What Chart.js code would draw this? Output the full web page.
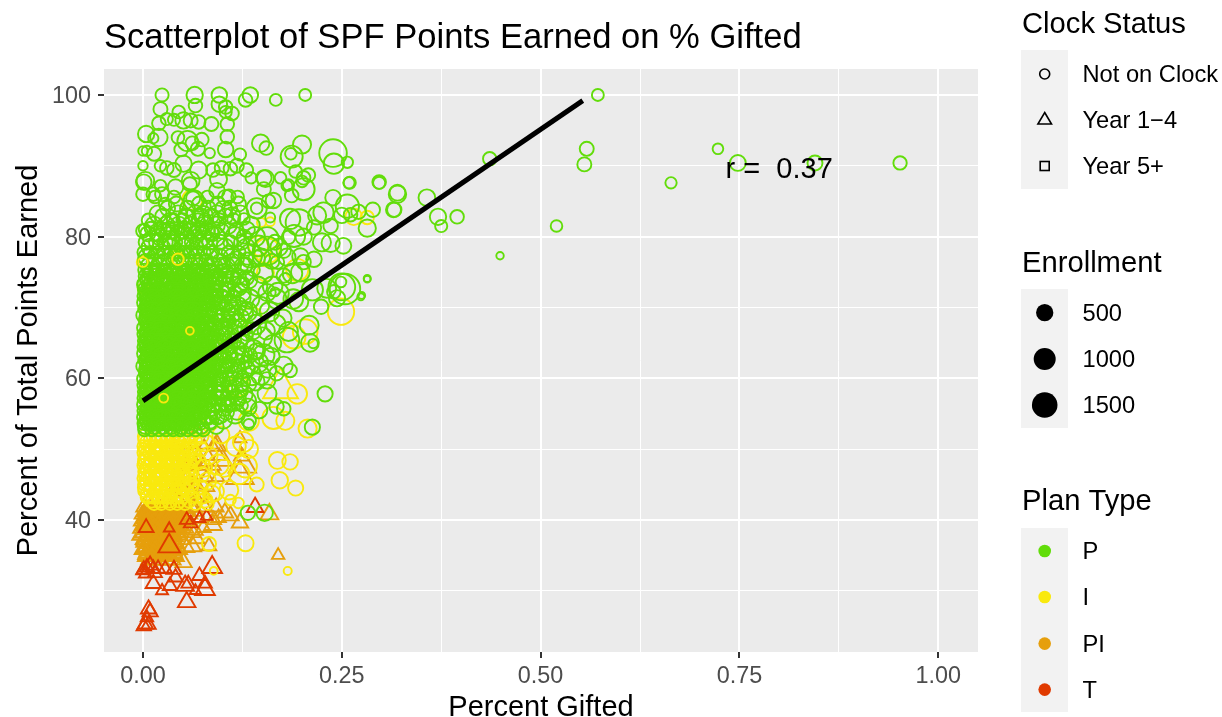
<!DOCTYPE html>
<html><head><meta charset="utf-8">
<style>html,body{margin:0;padding:0;background:#fff}canvas{display:block}</style>
<script src="https://cdn.jsdelivr.net/npm/chart.js@4/dist/chart.umd.js"></script>
</head><body><canvas id="c" width="1222" height="717"></canvas>
<script>
// Values. Triples: [percent gifted, percent of points, enrollment]
const planP_outer=[[57.2,100,110],[55.8,92.4,200],[55.5,90.2,200],[72.3,92.4,70],[74.8,90.4,300],[84.5,90.4,250],[95.2,90.4,170],[66.4,87.6,90],[43.6,91,170],[52,81.5,100],[44.9,77.3,8],[39.5,82.8,180],[37.5,81.5,120],[37.1,82.8,330],[35.7,85.5,350],[32,86,400],[31.6,83.8,220],[29.7,87.6,120],[28.2,81.2,390],[25.9,87.6,90],[25.7,90.5,90],[23.9,91.8,1400],[24,90.3,620],[20.4,100,110],[16.7,99.3,110],[28.2,74,3],[27.5,71.7,4],[25.4,72.6,1800],[28.9,83.8,220]];
const planP_top=[[2.4,100,160],[6.5,100,330],[9.6,100,280],[13.5,100,280],[12.9,99.3,180],[6.6,98.5,180],[9.6,98.7,280],[2.2,98,200],[10.4,98.3,180],[10.4,97.6,120],[11.2,97.4,180],[4.5,97.6,140],[3,96.6,120],[3.9,96.5,120],[5.1,96.4,330],[6,96.4,200],[7,96.2,180],[2,96,180],[8.6,95.9,200],[10.6,95.9,180],[0.4,94.5,330],[2,94,400],[1.3,93.9,60],[4.4,94,140],[5.6,93.5,620],[7.4,93.7,180],[10.6,94.1,180],[14.8,93.2,400],[15.5,92.5,180],[20,93,450],[18.7,91.3,780],[18.6,91.7,100],[10.4,92.3,280],[6.2,93.2,180],[6.9,92.4,200],[4.8,92.3,180],[0,92.1,40],[0.5,92.1,60],[1.4,91.7,200],[8.4,91.8,60],[12.2,91.6,120],[0,90,40],[2.2,90,100],[3,89.7,180],[3.9,89.4,200],[5.1,90.3,330],[7,89.4,370],[8.8,89.4,180],[9.9,89.7,200],[11,89.6,180],[11.8,90,200],[13,89.4,180],[13.6,88.3,90],[15.2,88.3,280],[15.4,88.2,370],[17.3,88.3,100],[18.3,87.3,90],[19.2,89.2,140],[20.2,88.3,180],[20.8,88.7,180],[20,87.8,100],[26,87.6,120],[29.7,87.7,180],[32,86.2,300],[31.5,83.8,250],[23.9,85.5,280],[25.7,84.3,900],[25.2,78.7,300],[23.6,79.1,450]];
const planP_mid=[[0.1,87.7,280],[0.3,87.9,420],[0,86,180],[1.3,86,180],[2.2,87.2,100],[2.4,86,200],[4.1,87,280],[6,87.9,420],[5.9,87.4,200],[9.3,86.5,280],[9.5,88.1,370],[10.4,85.5,280],[10.8,85.7,180],[6.4,85.1,620],[6.3,85.4,200],[2.8,84.6,140],[15.2,86.7,200],[16.4,85.1,280],[15.8,85,180],[18.7,85.8,180],[20.2,86.7,780],[18.1,87.2,80],[14.3,84,620],[14.3,84,100],[12.7,82.5,100],[11.2,83,330],[10.1,83.9,330],[12.7,80,200],[13.1,81,280],[7.6,83,500],[5.5,82.5,500],[3.4,82,500],[0.7,82.3,180],[0,80.8,180],[0.2,81,100],[2,80,330],[8.5,80.6,280],[11,79.2,200],[16,82.7,50],[18.5,82.5,620],[19.6,82,1250],[19,80.1,780],[15.6,79.7,900],[14.5,78.7,670],[15.6,78,1500],[13.5,77.3,900],[22.7,83.4,620],[21.9,83,450],[25,83,280],[27.1,83.5,220],[26.1,83.1,180],[22.5,79.2,450],[20.2,80,330],[21.5,76.8,280],[20.2,76.4,220],[21.5,81.3,220],[23.6,81.5,220],[18.3,79.9,180],[19.8,77.2,330],[17.7,78,220],[16.9,76.4,180],[14.3,76.9,330],[11.8,76.9,220],[13.1,76.9,120]];
const planP_right=[[28.2,74.1,5],[27.4,71.5,5],[25,72.9,1300],[24.9,73.6,70],[24.4,71.3,320],[24,72.2,180],[23.1,72.7,510],[22.4,70.1,220],[21.3,72.5,700],[20.9,67.5,510],[21,65,430],[21.4,64.9,40],[19.6,70.8,510],[18.3,66.6,510],[18.1,65.4,1050],[17,72,700],[16.6,72.2,30],[17.9,74,120],[19.8,75,510],[17.7,74.5,220],[17.7,61.8,430],[18.5,61.1,180],[15.6,59.7,340],[15.2,63.3,700],[14.3,63.8,340],[13.5,62,510],[12.7,63.4,340],[11,61.8,220],[22.9,57.8,260],[21.3,53.1,260],[13.3,54,220],[16.8,56,220],[17.7,55.7,180],[15.6,57.8,510],[14.8,60.4,510],[12.9,56.7,700],[16.8,60.7,220],[14.6,55.5,340],[13.3,53.5,70]];
const planP_lower=[[13.2,41,220],[15.3,41,340]];
// Dense part of the green cloud, as rows: [points earned, enrollment, [percent gifted...]]
const planP_rows=[
[84,250,[3.1,5.6,8.2,10.9]],[83.2,390,[1.9,4.4,6.6,9.3,12.2]],[82.4,140,[3.8,5,6.9,7.8,9.6,11.4]],[81.6,390,[1.4,2.9,4.5,6.1,7.7,9.2,10.7,13.6]],[80.8,250,[2.6,3.6,4.9,5.8,7,8.1,9.9,11.7]],[80,560,[3.3,5.2,7.3,9.1,11.6,14.1]],[79.2,250,[0.4,1.7,2.8,4,5,6.2,7.2,8.4,9.7,12.4,16.6]],[78.5,390,[0.9,2.3,3.6,5,6.5,7.9,10.3,13,17.1]],[77.8,140,[0.1,0.9,1.9,2.6,3.5,4.3,5.1,6,6.9,7.7,8.8,10.7,12.1]],[77.1,390,[0.5,1.6,2.9,4.2,5.5,6.8,8.3,9.6,11.2,14.9,18.1]],[76.5,250,[0.3,1.4,2.6,3.9,5.2,6.6,8,9.7,11.3,16.2]],[75.8,390,[0.8,2,3.3,4.5,5.9,7.2,8.9,10.5,12.6]],[75.3,140,[0.2,1,1.9,2.8,3.7,4.6,5.5,6.4,7.5,8.6,13.9]],[74.8,560,[1.3,3.1,4.9,6.7,8.4,10.2,15.1,18.8]],[74.4,250,[0.4,1.5,2.3,3.1,4.2,5,6,6.9,7.8,9.1,10.4,12]],[73.9,390,[0.7,1.9,3.4,4.7,6.2,7.6,9.4,11.1,13.3]],[73.4,140,[0.1,0.9,1.7,2.5,3.3,4.1,4.9,5.7,6.5,7.3,8.1,9.4,12.6]],[73,560,[1.1,2.7,4.1,5.6,7.1,8.5,10.1,11.9,14.4,16.3]],[72.5,250,[0.3,1.2,2.1,3,3.9,4.8,5.7,6.6,7.5,8.7,10.6]],[72.1,390,[0.6,1.8,3.2,4.4,5.9,7.3,8.9,12.5,15.6]],[71.6,140,[0.1,0.8,1.6,2.4,3.1,3.9,4.6,5.4,6.2,7,7.9,9.3,11.4]],[71.2,560,[1,2.6,4.3,6,7.7,9.8,13.4,16.8,18.9]],[70.7,250,[0.2,1.1,2,2.9,3.7,4.5,5.4,6.3,7.1,8.2,9.4,10.8]],[70.3,390,[0.7,2.2,3.4,4.9,6.5,8,9.5,11.9,14.8]],[69.8,140,[0.2,1,1.8,2.5,3.3,4.1,5,5.8,6.6,7.4,8.6,12.9]],[69.4,560,[1.2,2.9,4.6,6.2,8.1,10.4,13.1,15.9]],[68.9,250,[0.1,1,1.9,2.8,3.6,4.4,5.3,6.1,7,7.8,9,11.2]],[68.5,390,[0.6,2.1,3.5,5,6.6,8.3,9.9,12.3,17.6]],[68,140,[0.3,1.1,1.9,2.7,3.4,4.2,5,5.9,6.7,7.5,8.5,10.9]],[67.6,560,[1,2.5,4.2,5.8,7.6,9.6,11.8,14.2,16.7]],[67.1,250,[0.2,1,1.8,2.7,3.5,4.4,5.2,6.1,6.9,7.9,9.1,12.8]],[66.7,390,[0.7,2.2,3.6,5.1,6.7,8.2,10.2,13.8,15.5]],[66.2,140,[0.1,0.9,1.7,2.5,3.2,4,4.8,5.7,6.4,7.2,8.1,9.4]],[65.8,560,[1.3,3,4.7,6.3,8.2,10.5,12.1,15]],[65.3,250,[0.3,1.2,2,2.8,3.7,4.5,5.4,6.2,7.1,8,9.2,11.4]],[64.9,390,[0.6,2,3.4,4.9,6.4,7.9,9.7,12.9,16.3]],[64.4,140,[0.1,0.9,1.6,2.4,3.3,4.1,4.9,5.6,6.5,7.3,8.3,10.4]],[64,560,[1.1,2.7,4.4,6.1,7.8,9.5,11.7,13.9]],[63.5,250,[0.2,1.1,1.9,2.7,3.5,4.3,5.2,6,6.8,7.7,8.9,10.8]],[63.1,390,[0.8,2.3,3.7,5.2,6.9,8.4,10,12.2,16.1]],[62.6,140,[0.2,1,1.7,2.6,3.4,4.2,5.1,5.9,6.7,7.6,8.6]],[62.2,560,[1.2,2.8,4.5,6.3,8,9.9,11.6,14.5]],[61.7,250,[0.1,0.9,1.8,2.6,3.5,4.3,5.1,6,6.8,7.7,9,10.4]],[61.3,390,[0.6,2.1,3.5,5,6.6,8.2,9.8,13,15.7]],[60.8,140,[0.3,1.1,1.9,2.7,3.5,4.4,5.2,6,6.9,7.8,8.7]],[60.4,560,[1,2.6,4.3,6,7.7,9.4,11.3,13.7]],[59.9,250,[0.2,1,1.9,2.8,3.6,4.5,5.3,6.2,7,7.9,9.2,10.6]],[59.5,390,[0.7,2.2,3.6,5.2,6.7,8.3,9.9,12.4,14.2]],[59,140,[0.1,0.9,1.7,2.5,3.3,4.2,5,5.8,6.6,7.5,8.5]],[58.6,560,[1.3,2.9,4.6,6.4,8.1,10,11.9]],[58.1,250,[0.3,1.1,2,2.8,3.6,4.4,5.3,6.1,7,8,9.1,11]],[57.7,390,[0.6,2,3.4,4.9,6.5,8.1,9.7,12.7]],[57.2,140,[0.1,0.9,1.8,2.6,3.4,4.3,5.1,5.9,6.8,7.6,8.6]],[56.8,560,[1.1,2.7,4.4,6.1,7.9,9.8,11.5]],[56.3,250,[0.2,1,1.9,2.7,3.5,4.4,5.2,6,6.9,7.8,8.9,10.7]],[55.9,390,[0.8,2.3,3.8,5.3,6.9,8.5,10.2,13.2]],[55.4,140,[0.1,0.9,1.7,2.6,3.4,4.2,5,5.9,6.7,7.5,8.4]],[55,560,[1.2,2.9,4.6,6.3,8.1,9.6,11.6]],[54.5,250,[0.2,1.1,1.9,2.8,3.6,4.5,5.3,6.2,7.1,8.2,9.3]],[54.1,390,[0.6,2.1,3.7,5.2,6.8,8.4,10.1]],[53.6,140,[0.1,1,1.8,2.6,3.4,4.3,5.1,6,7.2,8.5]],[53.2,250,[0.3,1.4,2.5,3.6,4.8,6,7.3,9.2]],[52.7,140,[0.2,1.1,2,2.9,3.8,4.7,5.6,6.6,7.6]]];
const planP_fill=[
[75,90,[0.6,1.5,2.4,3.5,4.4,5.2,6.1,7]],[74.1,60,[0.5,1.2,2,2.8,3.7,4.5,5.4,6.3,7.2]],[73.2,250,[0.2,1.4,2.9,3.8,4.5,5.3,6.9,7.7]],[72.8,60,[0.6,1.5,2.3,3.5,4.3,5.2,6,6.9,8.2]],[72.3,140,[0.8,1.6,2.6,3.4,4.5,5.4,6.2,7.1,7.9]],[71.9,60,[0.2,1,1.9,2.7,3.6,4.3,5.1,6,6.7,7.6]],[71.4,250,[0.5,1.3,2.2,3.5,4.4,5.1,6.5,7.4,8.5]],[71,90,[0.4,1.2,2,2.9,3.8,4.6,5.5,6.4,7.3]],[70.5,140,[0.6,1.5,2.4,3.3,4.1,5,5.9,6.7,7.6]],[70.1,60,[0.3,1.1,1.9,2.8,3.6,4.4,5.2,6.1,6.9,7.8]],[69.6,250,[0.6,1.5,2.3,3.2,4.1,5.4,6.4,7.2,8.3]],[69.2,90,[0.4,1.2,2.1,3,3.9,4.7,5.6,6.5,7.4]],[68.7,140,[0.5,1.4,2.3,3.2,4,4.9,5.7,6.6,7.5]],[68.3,60,[0.2,1,1.8,2.6,3.5,4.3,5.1,5.9,6.8,7.7]],[67.8,250,[0.7,1.5,2.4,3.1,4.5,5.4,6.3,7.1,8.1]],[67.4,90,[0.4,1.3,2.1,3,3.8,4.7,5.5,6.4,7.3]],[66.9,140,[0.6,1.4,2.3,3.1,4,4.8,5.7,6.5,7.4]],[66.5,60,[0.3,1.1,1.9,2.8,3.6,4.4,5.3,6.1,7,7.8]],[66,250,[0.5,1.4,2.2,3.5,4.3,5.2,6,6.8,8.3]],[65.6,90,[0.4,1.2,2,2.9,3.8,4.6,5.5,6.4,7.2]],[65.1,140,[0.7,1.6,2.4,3.3,4.1,5,5.8,6.7,7.5]],[64.7,60,[0.2,1,1.8,2.7,3.5,4.3,5.2,6,6.9,7.7]],[64.2,250,[0.5,1.3,2.2,3,3.9,5.3,6.3,7.1,8.4]],[63.8,90,[0.4,1.2,2.1,2.9,3.8,4.7,5.5,6.4,7.3]],[63.3,140,[0.6,1.5,2.3,3.2,4,4.9,5.7,6.6,7.4]],[62.9,60,[0.3,1.1,1.9,2.8,3.6,4.5,5.3,6.2,7,7.9]],[62.4,250,[0.5,1.4,2.2,3.1,3.9,5.2,6.4,7.2,8.3]],[62,90,[0.4,1.3,2.1,3,3.8,4.7,5.5,6.4,7.2]],[61.5,140,[0.7,1.5,2.4,3.3,4.1,5,5.9,6.7,7.5]],[61.1,60,[0.2,1,1.9,2.7,3.6,4.4,5.2,6.1,6.9,7.8]],[60.6,250,[0.5,1.4,2.2,3.1,3.9,5.3,6.3,7.2,8.2]],[60.2,90,[0.4,1.2,2.1,3,3.8,4.6,5.5,6.4,7.3]],[59.7,140,[0.6,1.5,2.3,3.2,4.1,4.9,5.8,6.6,7.5]],[59.3,60,[0.3,1.1,1.9,2.8,3.6,4.5,5.3,6.1,7,7.9]],[58.8,250,[0.5,1.3,2.2,3,3.9,5.3,6.3,7.3,8.3]],[58.4,90,[0.4,1.2,2.1,3,3.8,4.7,5.5,6.4,7.2]],[57.9,140,[0.7,1.6,2.4,3.2,4.1,5,5.8,6.7,7.5]],[57.5,60,[0.2,1,1.9,2.7,3.6,4.4,5.2,6.1,7,7.8]],[57,250,[0.5,1.4,2.2,3.1,3.9,5.2,6.4,7.2,8.2]],[56.6,90,[0.4,1.3,2.1,3,3.8,4.7,5.5,6.4,7.3]],[56.1,140,[0.6,1.5,2.3,3.2,4,4.9,5.7,6.6,7.4]],[55.7,60,[0.3,1.1,1.9,2.8,3.6,4.5,5.3,6.2,7]],[55.2,250,[0.5,1.3,2.2,3,3.9,5.2,6.3,7.2]],[54.8,90,[0.4,1.2,2,2.9,3.8,4.6,5.5,6.4]],[54.3,140,[0.7,1.5,2.4,3.2,4.1,4.9,5.8,6.6]],[53.9,60,[0.3,1.1,1.9,2.8,3.6,4.5,5.3,6.2]],[53.4,90,[0.5,1.4,2.2,3.1,3.9,4.7,5.5]]];
const planP_fringe=[[76,250,[8.6,10,11.4,12.9]],[75,140,[9.1,10.6]],[74.2,250,[8.5,9.6,11.4,13]],[73.2,250,[8.9,10.7,12.3]],[72.2,140,[9.3,10.2,11.6]],[71.3,250,[8.8,11.3,12.6]],[70.2,140,[8.9,10.4,11.1]],[69.2,250,[9.2,11.7,12.9]],[68.2,140,[9.4,10.7,12]],[67.2,250,[8.9,10.3,11.5]],[66.2,140,[9.9,11.1,13]],[65.2,250,[9,10.4,12.2]],[64.2,140,[9.2,10.8,12.1]],[63.2,250,[9.6,11,13.4]],[62.2,140,[9.2,10.8,12.9]],[61.2,250,[8.9,10.6,12]],[60.2,140,[9.9,11.2,12.5]],[59.2,250,[9.4,10.8,13.3]],[58.2,140,[9.9,11.3,12.4]],[57.2,250,[9.2,10.6,12]],[56.2,140,[9.7,11,12.4]],[55.2,250,[9,10.5,11.8]],[79.6,390,[1.1,3.5,5.6,7.8]],[80.4,250,[0.6,1.8,4.3,6.5,8.7]],[81.2,140,[1,2.2,3.3,5.3,7.4]],[82.9,250,[2.5,5.4,7.3,8.6,10.4]],[84.6,250,[4.2,7.1,9.4,12]],[85.6,140,[1.5,3.9,8.1,11.9]]];
const planI_circles=[[24.9,69.4,1250],[19.4,57.8,560],[20.7,52.9,450],[16.4,54.4,780],[17.9,54,450],[13.3,54,620],[12,58.9,620],[13.7,68.7,560],[19,65.8,850],[20.4,66.6,1050],[9.7,64,420],[16.9,48.4,360],[18.5,48.2,280],[17.2,45.6,340],[19.2,44.5,260],[12.9,36.7,310],[14.3,45,200],[11,42.8,70],[12,42.4,70],[8.3,36.6,200],[8.9,32.8,12],[18.2,32.8,15],[7,52.9,480],[3.9,52.9,480],[12.6,51,620],[13.3,50,480],[11.7,50.4,560],[12.9,47.6,850],[12.1,46.5,620],[9.8,52,380],[9.5,47.8,620],[10.8,44.2,500],[9,44,500],[0,72.7,70],[26.5,82.8,350],[28.2,82.7,170],[4.3,77,220],[0,76.4,130],[6.2,85.2,620],[6.9,76.6,60],[15.4,76.6,90],[16.7,77.8,60],[14.9,82,30],[16,82.1,30],[15.6,78,1100],[14.5,78.7,560],[19.4,75.3,780],[15.4,74.9,380]];
const planI_top=[[5.9,66.7,12],[2.6,57.2,30],[0,76.4,40],[4.4,76.8,100]];
const planI_triangle=[[17.3,58.6,1700]];
const planI_rows=[
[51.8,250,[0.3,1.4,2.5,3.6,4.7,6,7.3]],[51.3,140,[0.2,0.9,1.6,2.3,3,3.7,4.4,5.2,6.6]],[50.9,390,[0.7,1.9,3.1,4.3,5.6,7.8]],[50.4,140,[0.1,0.8,1.5,2.2,2.9,3.6,4.3,5,6.1]],[50,250,[0.4,1.3,2.2,3.1,4,4.9,5.9,7.2]],[49.5,140,[0.1,0.8,1.5,2.2,2.9,3.6,4.3,5.1,6.3]],[49.1,390,[0.6,1.8,3,4.2,5.4,8.3]],[48.6,140,[0.2,0.9,1.6,2.3,3,3.7,4.4,5.2,6.4]],[48.2,250,[0.3,1.2,2.1,3,3.9,4.8,5.8,7]],[47.7,140,[0.1,0.8,1.5,2.2,2.9,3.6,4.3,5,6]],[47.3,390,[0.7,1.9,3.1,4.3,5.5,7.6,10.2]],[46.8,140,[0.2,0.9,1.6,2.3,3,3.7,4.4,5.1,6.2]],[46.4,250,[0.4,1.3,2.2,3.1,4,4.9,5.9,7.4]],[45.9,140,[0.1,0.8,1.5,2.2,2.9,3.6,4.3,5.2]],[45.5,390,[0.6,1.8,3,4.2,5.5,8.1]],[45,140,[0.2,0.9,1.6,2.3,3,3.7,4.4,5.1,6.1]],[44.6,250,[0.3,1.2,2.1,3,3.9,4.9,6,7.2]],[44.1,140,[0.2,0.9,1.6,2.3,3,3.7,4.6,5.6]],[43.7,390,[0.8,2,3.2,4.5,6.7,8.6]],[43.2,140,[0.5,1.2,1.9,2.6,3.3,4.1,5,6.2,7.5]],[42.8,250,[1.1,2.2,3.3,4.6,5.8,7.8]],[42.3,140,[1.4,2.3,3.4,4.3,5.3,6.6,8.1]]];
const planPI_rows=[
[50.5,20,[4.1,5.3,6.4,7.7,8.8]],[49,60,[3.9,5,6.1,7,8.2,9.6]],[47.5,20,[4.4,5.4,6.5,7.6,9.1]],[46,60,[4.2,5.5,6.7,8,9.4]],[44.5,20,[3.8,4.9,6,7.1,8.3]],[43,60,[3.1,4.2,5.4,6.8,8.1]],
[41.8,120,[0.1,0.9,1.7,2.5,3.3,4.1,5,6.1,7.8,9.2]],[41.5,60,[0.5,1.3,2.1,2.9,3.7,4.5,5.6]],[41.3,230,[0.4,1.3,2.2,3.1,4,5.2,6.5]],[41,60,[0.2,1,1.8,2.6,3.4,4.2,5]],[40.8,120,[-0.1,0.7,1.5,2.3,3.1,3.9,4.7,5.9]],[40.5,60,[0.4,1.2,2,2.8,3.6,4.4]],[40.3,230,[0.3,1.2,2.1,3,3.9,4.8,6.9]],[40,60,[0,0.8,1.6,2.4,3.2,4,4.8]],[39.8,120,[-0.2,0.6,1.4,2.2,3,3.8,4.6,5.5]],[39.5,60,[0.3,1.1,1.9,2.7,3.5,4.3]],[39.3,230,[0.2,1.1,2,2.9,3.8,4.7,8.8]],[39,60,[0,0.8,1.6,2.4,3.2,4,4.8]],[38.8,120,[-0.3,0.5,1.3,2.1,2.9,3.7,4.5,5.4]],[38.5,60,[0.2,1,1.8,2.6,3.4,4.2]],[38.3,230,[0.1,1,1.9,2.8,3.7,4.6,6.1]],[38,60,[-0.2,0.7,1.5,2.3,3.1,3.9,4.7]],[37.8,120,[-0.4,0.5,1.3,2.1,2.9,3.7,4.5]],[37.5,60,[0.2,1,1.8,2.6,3.4,4.2]],[37.3,230,[0.2,1.1,2,2.9,3.8,4.8]],[37,60,[0,0.8,1.6,2.4,3.2,4]],[36.8,120,[0.1,0.9,1.7,2.5,3.3,4.1]],[36.5,60,[0.4,1.2,2,2.8,3.6,4.4]],[36.3,230,[0.5,1.4,2.3,3.2,4.1,6.2]],[36,60,[0.1,0.9,1.7,2.5,3.3,4.1]],[35.8,120,[-0.1,0.7,1.5,2.3,3.1,3.9,4.6]],[35.5,60,[0.4,1.2,2,2.8,3.6]],[35.3,120,[0.4,1.3,2.2,3.1,4]],[35,60,[0.2,1,1.8,2.6,3.4,4.1]],[34.8,120,[0.3,1.1,1.9,2.7,3.5,4.2]],[34.3,120,[0.7,1.5,2.3,3.1,3.8]]];
const planPI_triangles=[[17,35,50],[15.9,40.8,230],[12.2,39.6,170],[11,40.6,170],[9.5,40.3,110],[8.3,36.3,110],[5.1,34,170],[5.5,36.1,130],[6.8,37.3,110],[7.6,38.9,110],[6.6,38.5,110],[8.9,40,110],[10.3,41,170],[9.1,49,1550],[12.5,47.8,900],[12.2,46.2,900],[7.2,43.6,170],[5.3,44,70],[6.8,52.4,130],[9.3,50.5,270],[12.2,51.5,60],[12.4,49,130],[6.7,45,90]];
const planT_triangles=[[14.1,41.8,180],[0.4,38.9,115],[3.3,38.8,20],[3.3,36.3,440],[5.5,40,80],[7.1,40.2,40],[6,39.5,80],[8,40.5,40],[0.1,33,100],[0.5,33.3,100],[1.3,33.1,100],[1.9,33.1,100],[2.8,33.1,80],[0.9,33.6,130],[-0.1,32.8,40],[3.9,33,130],[8.7,33.3,330],[7.1,32.1,100],[7.8,31,80],[7.8,30.2,330],[5.7,31,80],[5.3,30.7,230],[6.6,30,30],[3.4,30.7,100],[1.3,31,130],[2.4,30,40],[4.1,31.9,100],[5.5,28.4,220],[0.7,27.4,130],[0.9,27,130],[0.5,26.2,50],[0.1,25,100],[0.3,25.3,130],[0.7,25.2,100],[1.5,32.5,90],[0.3,32.4,60]];
const regressionX=[0,55.3];
const regressionY=[56.8,99.2];
const clockLabels=['Not on Clock','Year 1\u22124','Year 5+'];
const enrollmentLevels=[500,1000,1500];
const planLabels=['P','I','PI','T'];
const xTicks=[0,0.125,0.25,0.375,0.5,0.625,0.75,0.875,1];
const yTicks=[30,40,50,60,70,80,90,100];

const COL={P:'#62DD0A',I:'#F9E90E',PI:'#E69F0C',T:'#E03A00'};
const LCOL=[COL.P,COL.I,COL.PI,COL.T];
const FONT='"Liberation Sans", Arial, sans-serif';
const rad=e=>3+11.3*Math.sqrt(Math.max(e,0)/2000);
const ringRad=e=>2.9+13*Math.sqrt(Math.max(e,0)/2000);
const fromTriples=t=>t.map(([x,y,e])=>({x:x/100,y,e}));
const fromRows=r=>r.flatMap(([y,e,xs])=>xs.map(x=>({x:x/100,y,e})));
function ds(data,color,shape,order){return{type:'scatter',data,order,showLine:false,pointStyle:shape,backgroundColor:'rgba(0,0,0,0)',borderColor:color,pointBackgroundColor:'rgba(0,0,0,0)',pointBorderColor:color,pointBorderWidth:1.9,pointRadius:c=>{const e=c.raw?c.raw.e:100;return shape==='triangle'?rad(e)*1.5:ringRad(e);}};}

const panelBg={id:'panelBg',beforeDraw(ch){const a=ch.chartArea,c=ch.ctx;c.save();c.fillStyle='#EBEBEB';c.fillRect(a.left,a.top,a.right-a.left,a.bottom-a.top);c.restore();}};
const extras={id:'extras',afterDraw(ch){const c=ch.ctx;c.save();
 c.fillStyle='#000';c.textBaseline='alphabetic';c.textAlign='center';c.font='29px '+FONT;
 c.fillText('r =  0.37',ch.scales.x.getPixelForValue(0.8),178);
 const BX=1021,BW=47,CX=1044.7,LX=1082.5,TX=1022;
 const label=(t,y)=>{c.fillStyle='#000';c.textAlign='left';c.textBaseline='alphabetic';c.font='23.7px '+FONT;c.fillText(t,LX,y+8);};
 const head=(t,y)=>{c.fillStyle='#000';c.textAlign='left';c.textBaseline='alphabetic';c.font='29.2px '+FONT;c.fillText(t,TX,y);};
 const box=(y0,y1)=>{c.fillStyle='#F2F2F2';c.fillRect(BX,y0,BW,y1-y0);};
 head('Clock Status',33);box(50,189);
 const ky=[74,120,166];
 c.strokeStyle='#000';c.lineWidth=1.6;
 c.beginPath();c.arc(CX,ky[0],5,0,Math.PI*2);c.stroke();
 c.beginPath();c.moveTo(CX,ky[1]-7.5);c.lineTo(CX+6.8,ky[1]+4);c.lineTo(CX-6.8,ky[1]+4);c.closePath();c.stroke();
 c.strokeRect(CX-4.5,ky[2]-4.5,9,9);
 clockLabels.forEach((t,i)=>label(t,ky[i]));
 head('Enrollment',272);box(289,428);
 const ey=[312.7,359,405];
 enrollmentLevels.forEach((v,i)=>{c.fillStyle='#000';c.beginPath();c.arc(CX,ey[i],rad(v),0,Math.PI*2);c.fill();label(String(v),ey[i]);});
 head('Plan Type',510);box(528,712);
 const py=[551,597,643.6,689.6];
 planLabels.forEach((t,i)=>{c.fillStyle=LCOL[i];c.beginPath();c.arc(CX,py[i],6.3,0,Math.PI*2);c.fill();label(t,py[i]);});
 c.restore();}};

const isMajorX=v=>Math.abs(v*4-Math.round(v*4))<1e-6;
const isMajorY=v=>v%20===0;
new Chart(document.getElementById('c'),{
 type:'scatter',
 data:{datasets:[
  {type:'scatter',data:regressionX.map((x,i)=>({x:x/100,y:regressionY[i]})),showLine:true,order:0,borderColor:'#000',borderWidth:5,pointRadius:0,borderCapStyle:'butt',fill:false},
  ds(fromTriples(planI_top),COL.I,'circle',1),
  ds(fromTriples(planP_lower),COL.P,'circle',2),
  ds([...fromRows(planP_fill),...fromRows(planP_rows),...fromRows(planP_fringe),...fromTriples(planP_right),...fromTriples(planP_mid),...fromTriples(planP_top),...fromTriples(planP_outer)],COL.P,'circle',3),
  ds(fromTriples(planI_triangle),COL.I,'triangle',4),
  ds([...fromRows(planI_rows),...fromTriples(planI_circles)],COL.I,'circle',5),
  ds(fromTriples(planT_triangles),COL.T,'triangle',6),
  ds([...fromRows(planPI_rows),...fromTriples(planPI_triangles)],COL.PI,'triangle',7)
 ]},
 options:{responsive:false,animation:false,events:[],
  layout:{padding:{left:0,top:0,right:244,bottom:0}},
  plugins:{legend:{display:false},tooltip:{enabled:false},
   title:{display:true,text:'Scatterplot of SPF Points Earned on % Gifted',align:'start',fullSize:false,color:'#000',font:{family:FONT,size:34.6,weight:'normal',lineHeight:1},padding:{top:21.5,bottom:12.9}}},
  scales:{
   x:{type:'linear',min:-0.049,max:1.05,afterFit(s){s.height=65;},afterBuildTicks(s){s.ticks=xTicks.map(v=>({value:v}));},
    border:{display:false},
    grid:{color:'#fff',lineWidth:c=>isMajorX(c.tick.value)?2:1,tickLength:6,tickColor:c=>isMajorX(c.tick.value)?'#333':'rgba(0,0,0,0)',tickWidth:2},
    ticks:{autoSkip:false,maxRotation:0,color:'#4D4D4D',font:{family:FONT,size:23.4},padding:5,callback:v=>isMajorX(v)?v.toFixed(2):''},
    title:{display:true,text:'Percent Gifted',color:'#000',font:{family:FONT,size:29,lineHeight:1},padding:{top:0,bottom:-5}}},
   y:{type:'linear',min:21.35,max:103.67,afterFit(s){s.width=104;},afterBuildTicks(s){s.ticks=yTicks.map(v=>({value:v}));},
    border:{display:false},
    grid:{color:'#fff',lineWidth:c=>isMajorY(c.tick.value)?2:1,tickLength:6,tickColor:c=>isMajorY(c.tick.value)?'#333':'rgba(0,0,0,0)',tickWidth:2},
    ticks:{autoSkip:false,color:'#4D4D4D',font:{family:FONT,size:23.4},padding:7,labelOffset:1.5,callback:v=>isMajorY(v)?String(v):''},
    title:{display:true,text:'Percent of Total Points Earned',color:'#000',font:{family:FONT,size:29,lineHeight:1},padding:{top:14,bottom:0}}}
  }},
 plugins:[panelBg,extras]
});
</script></body></html>
